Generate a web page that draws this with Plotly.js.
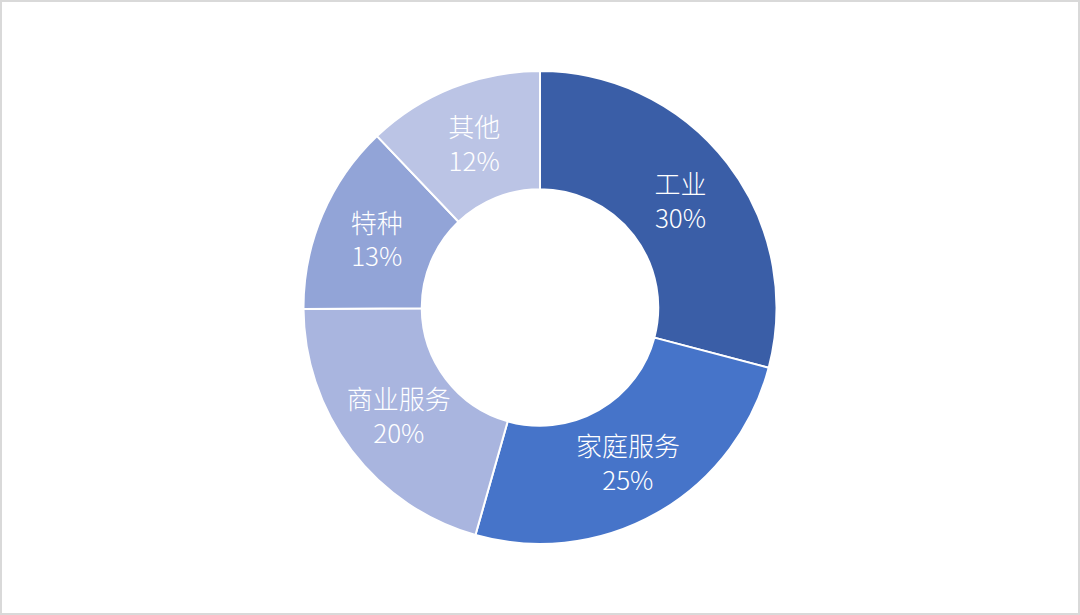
<!DOCTYPE html>
<html>
<head>
<meta charset="utf-8">
<script src="https://cdn.plot.ly/plotly-3.0.1.min.js"></script>
<style>
html,body{margin:0;padding:0;background:#fff;}
#wrap{position:relative;width:1080px;height:615px;}
#chart{width:1080px;height:615px;}
#frame{position:absolute;left:0;top:0;width:1080px;height:615px;box-sizing:border-box;border:2px solid #d9d9d9;pointer-events:none;}
</style>
</head>
<body>
<div id="wrap"><div id="chart"></div><div id="frame"></div></div>
<script>
// Categories, clockwise from 12 o'clock
const categories = ["工业", "家庭服务", "商业服务", "特种", "其他"];
// Slice sizes
const sliceValues = [29.1, 25.3, 20.5, 13.0, 12.1];
// Percent labels as printed on the chart
const percentLabels = ["30%", "25%", "20%", "13%", "12%"];
const sliceColors = ["#3A5EA7", "#4674C9", "#A9B5DF", "#92A4D7", "#BBC4E5"];

const trace = {
  type: "pie",
  labels: categories,
  values: sliceValues,
  text: percentLabels,
  hole: 0.5,
  sort: false,
  direction: "clockwise",
  rotation: 0,
  textinfo: "label+text",
  textposition: "inside",
  insidetextorientation: "horizontal",
  textfont: {family: "'Noto Sans CJK SC','Microsoft YaHei',sans-serif", size: 26, color: "#ffffff", weight: 300},
  marker: {colors: sliceColors, line: {color: "#ffffff", width: 2}},
  hoverinfo: "none"
};

const layout = {
  width: 1080,
  height: 615,
  margin: {l: 0, r: 0, t: 71, b: 71},
  showlegend: false,
  uniformtext: {mode: "show", minsize: 26},
  paper_bgcolor: "#ffffff",
  plot_bgcolor: "#ffffff"
};

Plotly.newPlot("chart", [trace], layout, {displayModeBar: false, staticPlot: true});
</script>
</body>
</html>
